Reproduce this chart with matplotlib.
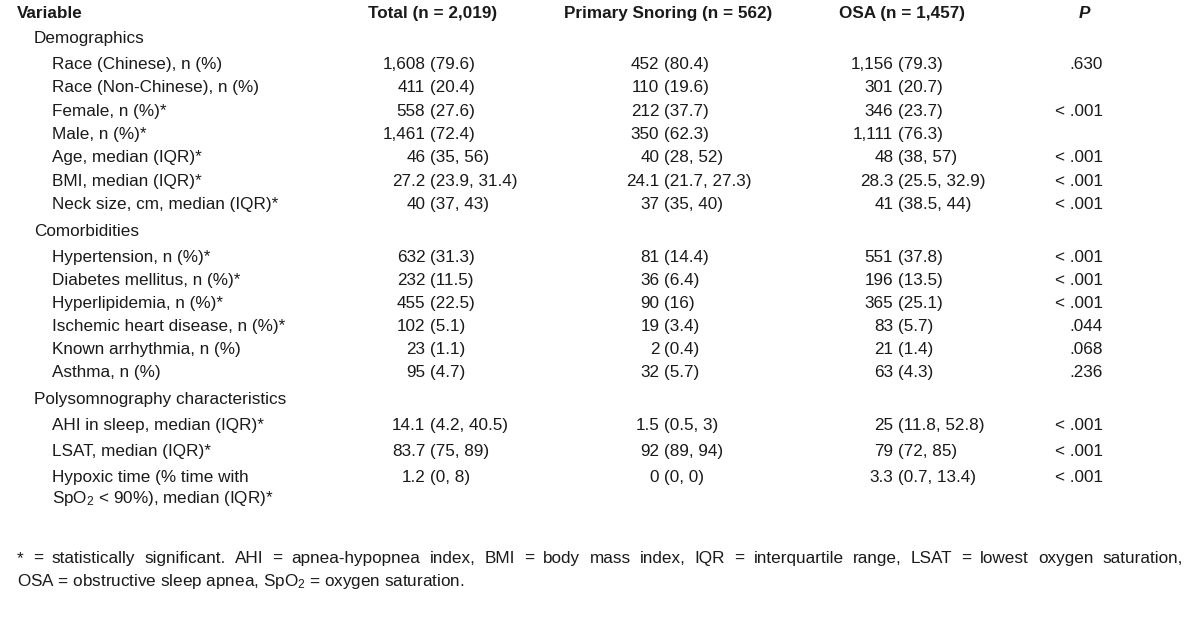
import matplotlib
matplotlib.use("Agg")
import matplotlib.pyplot as plt

# ---------------- data ----------------
headers = ["Variable", "Total (n = 2,019)", "Primary Snoring (n = 562)", "OSA (n = 1,457)", "P"]

sections = ["Demographics", "Comorbidities", "Polysomnography characteristics"]

demo_vars = ["Race (Chinese), n (%)", "Race (Non-Chinese), n (%)", "Female, n (%)*",
             "Male, n (%)*", "Age, median (IQR)*", "BMI, median (IQR)*",
             "Neck size, cm, median (IQR)*"]
demo_total = ["1,608 (79.6)", "411 (20.4)", "558 (27.6)", "1,461 (72.4)", "46 (35, 56)",
              "27.2 (23.9, 31.4)", "40 (37, 43)"]
demo_primary = ["452 (80.4)", "110 (19.6)", "212 (37.7)", "350 (62.3)", "40 (28, 52)",
                "24.1 (21.7, 27.3)", "37 (35, 40)"]
demo_osa = ["1,156 (79.3)", "301 (20.7)", "346 (23.7)", "1,111 (76.3)", "48 (38, 57)",
            "28.3 (25.5, 32.9)", "41 (38.5, 44)"]
demo_p = [".630", "", "< .001", "", "< .001", "< .001", "< .001"]

com_vars = ["Hypertension, n (%)*", "Diabetes mellitus, n (%)*", "Hyperlipidemia, n (%)*",
            "Ischemic heart disease, n (%)*", "Known arrhythmia, n (%)", "Asthma, n (%)"]
com_total = ["632 (31.3)", "232 (11.5)", "455 (22.5)", "102 (5.1)", "23 (1.1)", "95 (4.7)"]
com_primary = ["81 (14.4)", "36 (6.4)", "90 (16)", "19 (3.4)", "2 (0.4)", "32 (5.7)"]
com_osa = ["551 (37.8)", "196 (13.5)", "365 (25.1)", "83 (5.7)", "21 (1.4)", "63 (4.3)"]
com_p = ["< .001", "< .001", "< .001", ".044", ".068", ".236"]

psg_vars = ["AHI in sleep, median (IQR)*", "LSAT, median (IQR)*",
            "Hypoxic time (% time with\nSpO$\\mathregular{_2}$ < 90%), median (IQR)*"]
psg_total = ["14.1 (4.2, 40.5)", "83.7 (75, 89)", "1.2 (0, 8)"]
psg_primary = ["1.5 (0.5, 3)", "92 (89, 94)", "0 (0, 0)"]
psg_osa = ["25 (11.8, 52.8)", "79 (72, 85)", "3.3 (0.7, 13.4)"]
psg_p = ["< .001", "< .001", "< .001"]

footnote1 = ("* = statistically significant. AHI = apnea-hypopnea index, BMI = body mass index, "
             "IQR = interquartile range, LSAT = lowest oxygen saturation,")
footnote2 = "OSA = obstructive sleep apnea, SpO$\\mathregular{_2}$ = oxygen saturation."

# ---------------- layout ----------------
W, H = 1200, 636
FONT = "Liberation Sans"
FS = 12.3
COLOR = "#1a1a1a"
fs_px = FS * 100 / 72
space_px = 0.278 * fs_px
BASE = 6  # offset from row centre to text baseline (px)

fig = plt.figure(figsize=(W / 100, H / 100), dpi=100)
ax = fig.add_axes([0, 0, 1, 1])
ax.set_xlim(0, W)
ax.set_ylim(H, 0)
ax.axis("off")

def txt(x, y, s, ha="left", **kw):
    return ax.text(x, round(y) + BASE, s, ha=ha, va="baseline", fontsize=FS, family=FONT,
                   color=COLOR, **kw)

x_var, x_sec, x_item = 17, 34, 52
paren_x = [430, 664, 898]
p_right = 1103
head_cx = [433, 668, 902, 1084]

# header
y = 12
txt(x_var, y, headers[0], fontweight="bold")
for cx, h in zip(head_cx[:3], headers[1:4]):
    txt(cx, y, h, ha="center", fontweight="bold")
txt(head_cx[3], y, headers[4], ha="center", fontweight="bold", style="italic")

def cell(xp, y, s):
    if " (" in s:
        a, b = s.split(" (", 1)
        txt(xp - space_px, y, a, ha="right")
        txt(xp, y, "(" + b, ha="left")
    else:
        txt(xp, y, s, ha="left")

blocks = [
    (demo_vars, demo_total, demo_primary, demo_osa, demo_p, 23.3),
    (com_vars, com_total, com_primary, com_osa, com_p, 23.0),
    (psg_vars, psg_total, psg_primary, psg_osa, psg_p, 26.0),
]
sec_y = [37, 230, 398]

for (vars_, tot, pri, osa, pv, step), sname, sy in zip(blocks, sections, sec_y):
    txt(x_sec, sy, sname)
    yy = sy + 26
    for i, v in enumerate(vars_):
        if "\n" in v:
            l1, l2 = v.split("\n")
            txt(x_item, yy, l1)
            txt(x_item, yy + 21, l2)
        else:
            txt(x_item, yy, v)
        for xp, col in zip(paren_x, (tot, pri, osa)):
            cell(xp, yy, col[i])
        if pv[i]:
            txt(p_right, yy, pv[i], ha="right")
        yy += step

# footnote line 1, justified
fig.canvas.draw()
renderer = fig.canvas.get_renderer()
words = footnote1.split(" ")
widths = []
for w in words:
    t = txt(0, -100, w)
    widths.append(t.get_window_extent(renderer).width)
    t.remove()
x0, x1 = 17, 1183
gap = (x1 - x0 - sum(widths)) / (len(words) - 1)
x = x0
for w, wd in zip(words, widths):
    txt(x, 557, w)
    x += wd + gap

txt(x0, 580, footnote2)

fig.savefig("out.png", dpi=100, facecolor="white")
